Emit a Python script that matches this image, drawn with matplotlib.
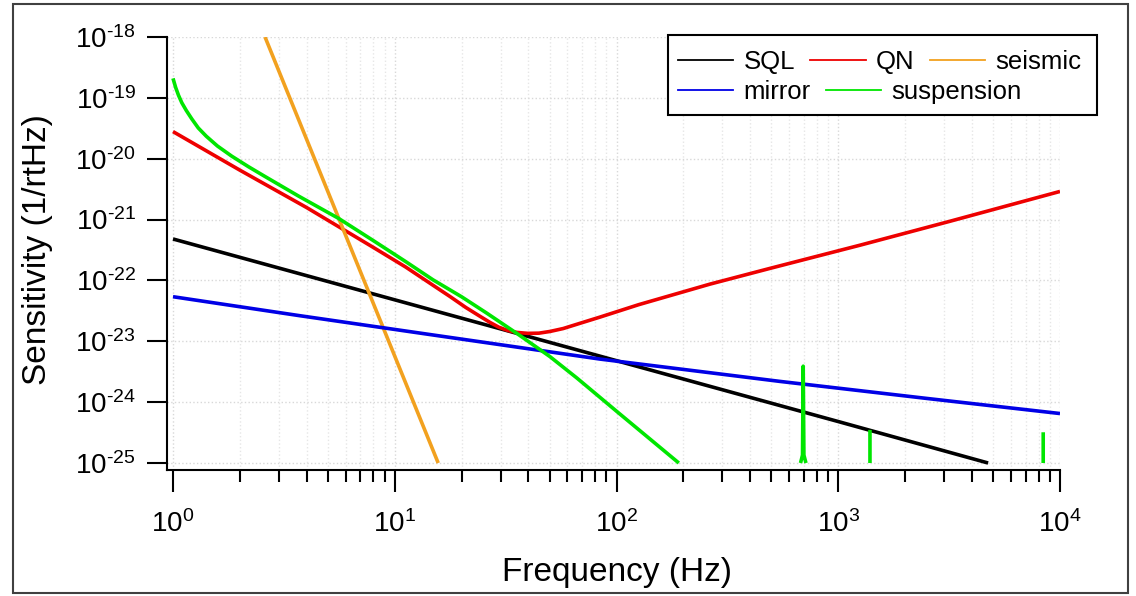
import numpy as np
import matplotlib
matplotlib.use("Agg")

import matplotlib.pyplot as plt
from matplotlib.lines import Line2D
from matplotlib.patches import Rectangle
from matplotlib.ticker import LogLocator, NullLocator, FixedFormatter

plt.rcParams['font.family'] = ['Liberation Sans', 'DejaVu Sans']
plt.rcParams['mathtext.fontset'] = 'custom'
plt.rcParams['mathtext.rm'] = 'Liberation Sans'
plt.rcParams['mathtext.it'] = 'Liberation Sans:italic'
plt.rcParams['mathtext.bf'] = 'Liberation Sans:bold'

# data
sql_f = [1, 10, 100, 1000, 4740]
sql_h = [4.8e-22, 4.8e-23, 4.8e-24, 4.8e-25, 1.0e-25]

qn_f = [1, 2, 4, 7.94, 11.2, 14.9, 17.8, 20.9, 24.0, 26.9, 29.5, 32.4, 35.5,
        39.8, 44.7, 50.1, 57.5, 69.2, 84.3, 126, 264, 493, 1256, 3162, 10000]
qn_h = [2.79e-20, 6.5e-21, 1.58e-21, 3.55e-22, 1.66e-22, 8.3e-23, 5.4e-23,
        3.6e-23, 2.63e-23, 2.04e-23, 1.70e-23, 1.50e-23, 1.40e-23, 1.35e-23,
        1.36e-23, 1.45e-23, 1.62e-23, 2.0e-23, 2.5e-23, 4.0e-23, 8.7e-23,
        1.58e-22, 3.8e-22, 9.3e-22, 2.9e-21]

seismic_f = [2.6, 15.7]
seismic_h = [1e-18, 1e-25]

mirror_f = [1, 3.74, 15.8, 84.3, 547, 2512, 10000]
mirror_h = [5.4e-23, 2.63e-23, 1.23e-23, 5.1e-24, 2.19e-24, 1.15e-24, 6.5e-25]

susp_f = [1, 1.028, 1.059, 1.096, 1.148, 1.216, 1.30, 1.413, 1.585, 1.841,
          2.188, 2.6, 3.67, 5.57, 7.94, 11.2, 14.9, 20.0, 26.0, 35.5, 50.1,
          66.2, 100, 191]
susp_h = [2.09e-19, 1.48e-19, 1.10e-19, 8.3e-20, 6.2e-20, 4.5e-20, 3.2e-20,
          2.34e-20, 1.62e-20, 1.10e-20, 7.4e-21, 5.1e-21, 2.45e-21, 1.05e-21,
          4.6e-22, 2.04e-22, 1.02e-22, 5.4e-23, 2.9e-23, 1.35e-23, 5.6e-24,
          2.5e-24, 7.1e-25, 1.0e-25]

# violin modes of the suspension
violin_f = [676, 690, 695, 700, 715, np.nan, 1390, 1390, np.nan, 8400, 8400]
violin_h = [1e-25, 1.35e-25, 3.9e-24, 1.35e-25, 1e-25, np.nan, 1e-25, 3.5e-25,
            np.nan, 1e-25, 3.2e-25]

x_exps = [0, 1, 2, 3, 4]
y_exps = [-25, -24, -23, -22, -21, -20, -19, -18]

colors = {
    "SQL": "#000000",
    "QN": "#ee0000",
    "seismic": "#f2a11f",
    "mirror": "#0000e6",
    "suspension": "#00e600",
}

fig = plt.figure(figsize=(11.36, 5.96), dpi=100)
ax = fig.add_axes([167 / 1136, 126 / 596, 893 / 1136, 433 / 596])

lw = 2.6
kw = dict(lw=lw, solid_capstyle="butt", solid_joinstyle="round", zorder=3)
ax.plot(sql_f, sql_h, color=colors["SQL"], **kw)
ax.plot(qn_f, qn_h, color=colors["QN"], **kw)
ax.plot(seismic_f, seismic_h, color=colors["seismic"], **kw)
ax.plot(mirror_f, mirror_h, color=colors["mirror"], **kw)
ax.plot(susp_f, susp_h, color=colors["suspension"], **kw)
ax.plot(violin_f, violin_h, color=colors["suspension"], **kw)

ax.set_xscale("log")
ax.set_yscale("log")
ax.set_xlim(10 ** (-6 / 221.7), 1e4)
ax.set_ylim(10 ** (-25 - 7 / 60.9), 1e-18)

# ticks
ax.set_xticks([10.0 ** e for e in x_exps])
ax.xaxis.set_major_formatter(FixedFormatter(
    [r"$\mathdefault{10^{%d}}$" % e for e in x_exps]))
ax.xaxis.set_minor_locator(LogLocator(base=10, subs=range(2, 10), numticks=20))
ax.set_yticks([10.0 ** e for e in y_exps])
ax.yaxis.set_major_formatter(FixedFormatter(
    [r"$\mathdefault{10^{\text{-}%d}}$" % (-e) for e in y_exps]))
ax.yaxis.set_minor_locator(NullLocator())

ax.tick_params(axis="x", which="major", length=16, width=1.5, pad=13,
               labelsize=20, direction="out")
ax.tick_params(axis="x", which="minor", length=8.5, width=1.5, direction="out")
ax.tick_params(axis="y", which="major", length=14.4, width=1.5, pad=8,
               labelsize=20, direction="out")

for s in ["top", "right"]:
    ax.spines[s].set_visible(False)
for s in ["left", "bottom"]:
    ax.spines[s].set_linewidth(1.5)

ax.set_axisbelow(True)
ax.grid(True, which="major", ls=":", color="#d8d8d8", lw=1.0)
ax.grid(True, which="minor", axis="x", ls=":", color="#e6e6e6", lw=1.0)

ax.set_xlabel("Frequency (Hz)", fontsize=24)
ax.xaxis.set_label_coords(0.504, -0.200)
ax.set_ylabel("Sensitivity (1/rtHz)", fontsize=24)
ax.yaxis.set_label_coords(-0.128, 0.51)

# legend: two rows, framed together
box = Rectangle((0.561, 0.820), 0.480, 0.185, transform=ax.transAxes,
                fc="white", ec="black", lw=1.5, clip_on=False, zorder=4)
ax.add_patch(box)

leg_kw = dict(loc="center left", frameon=False, fontsize=18.5,
              handlelength=2.15, handletextpad=0.4, columnspacing=0.6,
              borderpad=0, borderaxespad=0)


def handles(names):
    return [Line2D([], [], color=colors[n], lw=1.3) for n in names]


row1 = ["SQL", "QN", "seismic"]
row2 = ["mirror", "suspension"]
leg1 = ax.legend(handles(row1), row1, ncol=3, bbox_to_anchor=(0.5722, 0.942),
                 **leg_kw)
leg1.set_zorder(5)
ax.add_artist(leg1)
leg2 = ax.legend(handles(row2), row2, ncol=2, bbox_to_anchor=(0.5722, 0.873),
                 **leg_kw)
leg2.set_zorder(5)

# frame round the whole figure
fig.add_artist(Rectangle((13 / 1136, 3 / 596), 1115 / 1136, 589 / 596,
                         transform=fig.transFigure, fill=False,
                         ec="#404040", lw=1.5))

fig.savefig("out.png", dpi=100)
